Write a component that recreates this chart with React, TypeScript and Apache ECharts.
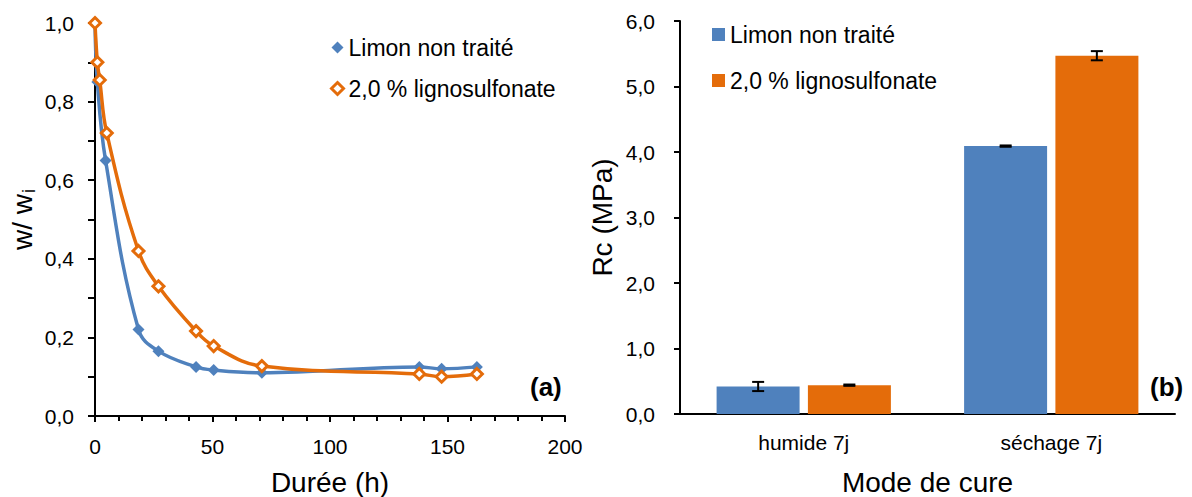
import React, { useEffect, useRef } from 'react';
import * as echarts from 'echarts';

// Séchage : rapport de teneur en eau w/wi en fonction de la durée (h)
const SERIES_NAMES = ['Limon non traité', '2,0 % lignosulfonate'];
const limonHours = [0, 1, 4.5, 18.5, 27, 43, 50.5, 71, 138, 147.5, 162.5];
const limonRatio = [1.0, 0.85, 0.65, 0.22, 0.165, 0.125, 0.117, 0.11, 0.125, 0.12, 0.125];
const lignoHours = [0, 1, 2, 5, 18.5, 27, 43, 50.5, 71, 138, 147.5, 162.5];
const lignoRatio = [1.0, 0.9, 0.855, 0.72, 0.42, 0.33, 0.216, 0.178, 0.127, 0.107, 0.1, 0.107];

// Résistance en compression Rc (MPa) selon le mode de cure
const cureModes = ['humide 7j', 'séchage 7j'];
const limonRc = [0.42, 4.09];
const limonRcErr = [0.07, 0.01];
const lignoRc = [0.44, 5.47];
const lignoRcErr = [0.01, 0.07];

const BLUE = '#4F81BD';
const ORANGE = '#E46C0A';
const FONT = '"Liberation Sans", Arial, Helvetica, sans-serif';
const BAR_W = 83;
const BAR_OFFSET = 45.6;

const comma1 = (v: number) => v.toFixed(1).replace('.', ',');

function errorBars(values: number[], errs: number[], offset: number) {
  return {
    type: 'custom',
    xAxisIndex: 1,
    yAxisIndex: 1,
    z: 10,
    silent: true,
    encode: { x: 0, y: 1 },
    data: values.map((v, i) => [i, v, errs[i]]),
    renderItem: (_params: any, api: any) => {
      const cat = api.value(0);
      const v = api.value(1);
      const e = api.value(2);
      const top = api.coord([cat, v + e]);
      const bot = api.coord([cat, v - e]);
      const x = top[0] + offset;
      const st = { stroke: '#000', lineWidth: 2 };
      return {
        type: 'group',
        children: [
          { type: 'line', shape: { x1: x, y1: top[1], x2: x, y2: bot[1] }, style: st },
          { type: 'line', shape: { x1: x - 6, y1: top[1], x2: x + 6, y2: top[1] }, style: st },
          { type: 'line', shape: { x1: x - 6, y1: bot[1], x2: x + 6, y2: bot[1] }, style: st },
        ],
      };
    },
  };
}

const axisLine = () => ({ show: true, onZero: false, lineStyle: { color: '#000', width: 2, opacity: 1 } });
const tick = (length: number) => ({ show: true, length, lineStyle: { color: '#000', width: 2, opacity: 1 } });
const tickLabel = () => ({ color: '#000', fontSize: 21, fontFamily: FONT });
const nameStyle = () => ({ color: '#000', fontSize: 28, fontFamily: FONT });

export default function App() {
  const ref = useRef<HTMLDivElement>(null);

  useEffect(() => {
    if (!ref.current) return;
    const chart = echarts.init(ref.current, null, { renderer: 'svg' });

    chart.setOption({
      animation: false,
      backgroundColor: '#fff',
      textStyle: { fontFamily: FONT },
      grid: [
        { left: 95, right: 627, top: 23, bottom: 81, containLabel: false, outerBoundsMode: 'none' },
        { left: 680, right: 17, top: 21, bottom: 83, containLabel: false, outerBoundsMode: 'none' },
      ],
      legend: [
        {
          orient: 'vertical',
          left: 325,
          top: 31,
          itemGap: 18,
          itemWidth: 12,
          itemHeight: 12,
          selectedMode: false,
          textStyle: { color: '#000', fontSize: 23, fontFamily: FONT, padding: [0, 0, 0, 0] },
          data: [
            { name: SERIES_NAMES[0], icon: 'diamond', itemStyle: { color: BLUE, borderWidth: 0 } },
            { name: SERIES_NAMES[1], icon: 'diamond', itemStyle: { color: '#fff', borderColor: ORANGE, borderWidth: 3 } },
          ],
        },
        {
          orient: 'vertical',
          left: 707,
          top: 18,
          itemGap: 23,
          itemWidth: 13,
          itemHeight: 13,
          selectedMode: false,
          textStyle: { color: '#000', fontSize: 23, fontFamily: FONT, padding: [0, 0, 0, 0] },
          data: [
            { name: SERIES_NAMES[0], icon: 'rect', itemStyle: { color: BLUE, borderWidth: 0 } },
            { name: SERIES_NAMES[1], icon: 'rect', itemStyle: { color: ORANGE, borderWidth: 0 } },
          ],
        },
      ],
      xAxis: [
        {
          gridIndex: 0,
          type: 'value',
          min: 0,
          max: 200,
          interval: 50,
          name: 'Durée (h)',
          nameLocation: 'middle',
          nameGap: 52,
          nameTextStyle: nameStyle(),
          axisLine: axisLine(),
          axisTick: tick(6),
          minorTick: { show: true, splitNumber: 5, length: 5, lineStyle: { color: '#000', width: 2 } },
          splitLine: { show: false },
          axisLabel: { ...tickLabel(), margin: 20 },
        },
        {
          gridIndex: 1,
          type: 'category',
          data: cureModes,
          name: 'Mode de cure',
          nameLocation: 'middle',
          nameGap: 54,
          nameTextStyle: nameStyle(),
          axisLine: axisLine(),
          axisTick: { show: false },
          axisLabel: { ...tickLabel(), margin: 18 },
        },
      ],
      yAxis: [
        {
          gridIndex: 0,
          type: 'value',
          min: 0,
          max: 1,
          interval: 0.2,
          name: '{a|w/ w}{b|i}',
          nameLocation: 'middle',
          nameGap: 57,
          nameTextStyle: {
            ...nameStyle(),
            rich: {
              a: { fontSize: 28, fontFamily: FONT, color: '#000' },
              b: { fontSize: 18, fontFamily: FONT, color: '#000', verticalAlign: 'bottom', padding: [14, 0, 0, 1] },
            },
          },
          axisLine: axisLine(),
          axisTick: tick(7),
          minorTick: { show: true, splitNumber: 2, length: 7, lineStyle: { color: '#000', width: 2 } },
          splitLine: { show: false },
          axisLabel: { ...tickLabel(), margin: 21, formatter: comma1 },
        },
        {
          gridIndex: 1,
          type: 'value',
          min: 0,
          max: 6,
          interval: 1,
          name: 'Rc (MPa)',
          nameLocation: 'middle',
          nameGap: 64,
          nameTextStyle: nameStyle(),
          axisLine: axisLine(),
          axisTick: tick(6),
          splitLine: { show: false },
          axisLabel: { ...tickLabel(), margin: 25, formatter: comma1 },
        },
      ],
      series: [
        {
          name: SERIES_NAMES[0],
          type: 'line',
          xAxisIndex: 0,
          yAxisIndex: 0,
          smooth: 0.4,
          data: limonHours.map((h, i) => [h, limonRatio[i]]),
          symbol: 'diamond',
          symbolSize: 12,
          lineStyle: { color: BLUE, width: 3.5 },
          itemStyle: { color: BLUE },
          z: 3,
        },
        {
          name: SERIES_NAMES[1],
          type: 'line',
          xAxisIndex: 0,
          yAxisIndex: 0,
          smooth: 0.4,
          data: lignoHours.map((h, i) => [h, lignoRatio[i]]),
          symbol: 'diamond',
          symbolSize: 11,
          lineStyle: { color: ORANGE, width: 3.5 },
          itemStyle: { color: '#fff', borderColor: ORANGE, borderWidth: 3 },
          z: 4,
        },
        {
          name: SERIES_NAMES[0],
          type: 'bar',
          xAxisIndex: 1,
          yAxisIndex: 1,
          barWidth: BAR_W,
          barGap: '10%',
          data: limonRc,
          itemStyle: { color: BLUE },
        },
        {
          name: SERIES_NAMES[1],
          type: 'bar',
          xAxisIndex: 1,
          yAxisIndex: 1,
          barWidth: BAR_W,
          barGap: '10%',
          data: lignoRc,
          itemStyle: { color: ORANGE },
        },
        errorBars(limonRc, limonRcErr, -BAR_OFFSET),
        errorBars(lignoRc, lignoRcErr, BAR_OFFSET),
      ],
      graphic: [
        { type: 'text', left: 530, top: 374, style: { text: '(a)', font: `bold 26px ${FONT}`, fill: '#000' } },
        { type: 'text', left: 1150, top: 374, style: { text: '(b)', font: `bold 26px ${FONT}`, fill: '#000' } },
      ],
    });

    return () => chart.dispose();
  }, []);

  return (
    <div
      ref={ref}
      style={{ position: 'fixed', left: 0, top: 0, width: 1192, height: 497, background: '#fff' }}
    />
  );
}
